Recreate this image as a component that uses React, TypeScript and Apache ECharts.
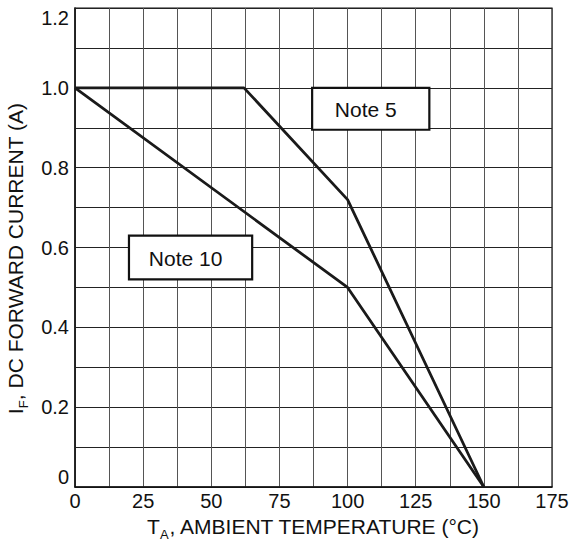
import { useEffect, useRef } from 'react';
import * as echarts from 'echarts';

// Derating curves: ambient temperature (°C) vs DC forward current (A)
const note5Temps = [0, 62, 100, 150];
const note5Current = [1.0, 1.0, 0.72, 0];
const note10Temps = [0, 100, 150];
const note10Current = [1.0, 0.5, 0];

const xTickLabels = ['0', '25', '50', '75', '100', '125', '150', '175'];
const yTickLabels = ['0', '0.2', '0.4', '0.6', '0.8', '1.0', '1.2'];

const noteLabels = ['Note 5', 'Note 10'];
// note boxes in data coordinates: [x1, y1, x2, y2]
const noteBoxes = [
  [87, 1.0, 130, 0.895],
  [19.8, 0.63, 65, 0.52],
];

const FONT = '"Liberation Sans", Arial, Helvetica, sans-serif';
const INK = '#111';

export default function App() {
  const ref = useRef<HTMLDivElement>(null);

  useEffect(() => {
    document.body.style.margin = '0';
    if (!ref.current) return;
    const chart = echarts.init(ref.current, undefined, { renderer: 'svg' });

    const xLabel = (v: number) => {
      const i = xTickLabels.findIndex((t) => Math.abs(parseFloat(t) - v) < 1e-6);
      return i >= 0 ? xTickLabels[i] : '';
    };
    const yLabel = (v: number) => {
      const i = yTickLabels.findIndex((t) => Math.abs(parseFloat(t) - v) < 1e-6);
      return i >= 0 ? yTickLabels[i] : '';
    };

    const rich = {
      n: { fontSize: 21, fontFamily: FONT, color: INK, lineHeight: 30, verticalAlign: 'middle' as const },
      s: { fontSize: 13, fontFamily: FONT, color: INK, lineHeight: 13, verticalAlign: 'bottom' as const },
    };

    const lineStyle = { color: '#1a1a1a', width: 2.8 };

    chart.setOption({
      animation: false,
      backgroundColor: '#fff',
      grid: {
        left: 75,
        right: 20,
        top: 8,
        bottom: 54,
        show: true,
        borderColor: INK,
        borderWidth: 1.2,
        backgroundColor: 'transparent',
        outerBoundsMode: 'none',
      },
      xAxis: {
        type: 'value',
        min: 0,
        max: 175,
        interval: 12.5,
        name: '{n|T}{s|A}{n|, AMBIENT TEMPERATURE (°C)}',
        nameLocation: 'middle',
        nameGap: 23,
        nameTextStyle: { fontSize: 21, fontFamily: FONT, color: INK, rich },
        axisLine: { show: true, lineStyle: { color: INK, width: 1.5 } },
        axisTick: { show: false },
        axisLabel: {
          formatter: xLabel,
          fontSize: 20,
          fontFamily: FONT,
          color: INK,
          margin: 4,
          showMinLabel: true,
          showMaxLabel: true,
        },
        splitLine: { show: true, lineStyle: { color: '#555', width: 1 } },
      },
      yAxis: {
        type: 'value',
        min: 0,
        max: 1.2,
        interval: 0.1,
        name: '{n|I}{s|F}{n|, DC FORWARD CURRENT (A)}',
        nameLocation: 'middle',
        nameGap: 40,
        nameTextStyle: { fontSize: 21, fontFamily: FONT, color: INK, rich, padding: [0, 22, 0, 0] },
        axisLine: { show: true, lineStyle: { color: INK, width: 1.5 } },
        axisTick: { show: false },
        axisLabel: {
          formatter: yLabel,
          fontSize: 20,
          fontFamily: FONT,
          color: INK,
          margin: 6,
          showMinLabel: true,
          showMaxLabel: true,
          verticalAlignMinLabel: 'bottom',
          verticalAlignMaxLabel: 'top',
        },
        splitLine: { show: true, lineStyle: { color: '#222', width: 1 } },
      },
      series: [
        {
          type: 'line',
          name: noteLabels[0],
          data: note5Temps.map((t, i) => [t, note5Current[i]]),
          symbol: 'none',
          lineStyle,
          z: 3,
          markArea: {
            silent: true,
            itemStyle: { color: '#fff', borderColor: INK, borderWidth: 2.2 },
            label: {
              show: true,
              position: 'inside',
              fontSize: 21,
              fontFamily: FONT,
              color: INK,
              offset: [-5, 1],
            },
            data: noteBoxes.map((b, i) => [
              { name: noteLabels[i], xAxis: b[0], yAxis: b[1] },
              { xAxis: b[2], yAxis: b[3] },
            ]),
          },
        },
        {
          type: 'line',
          name: noteLabels[1],
          data: note10Temps.map((t, i) => [t, note10Current[i]]),
          symbol: 'none',
          lineStyle,
          z: 3,
        },
      ],
    });

    return () => chart.dispose();
  }, []);

  return <div ref={ref} style={{ width: 572, height: 541 }} />;
}
